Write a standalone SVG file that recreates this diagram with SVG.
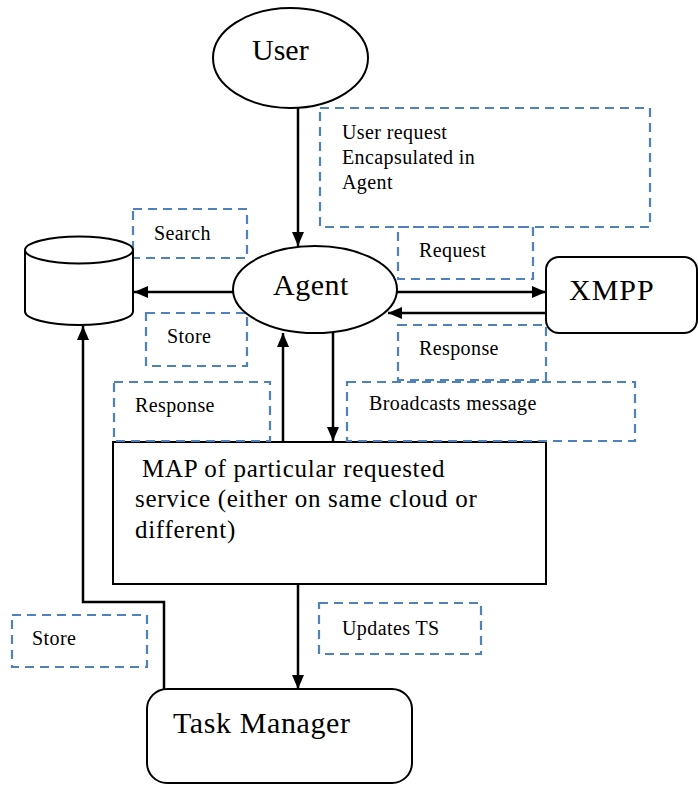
<svg xmlns="http://www.w3.org/2000/svg" width="698" height="785" viewBox="0 0 698 785">
<style>
.node{fill:#fff;stroke:#000;stroke-width:2}
.lbl{fill:none;stroke:#4F81BD;stroke-width:2.2;stroke-dasharray:9,6}
.big{font-family:"Liberation Serif","Times New Roman",serif;font-size:30px;fill:#000}
.mid{font-family:"Liberation Serif","Times New Roman",serif;font-size:25px;letter-spacing:0.7px;fill:#000}
.small{font-family:"Liberation Serif","Times New Roman",serif;font-size:20px;letter-spacing:0.4px;fill:#000}
.conn{fill:none;stroke:#000;stroke-width:2.5}
</style>
<defs>
<marker id="arr" viewBox="0 0 14 12" refX="14" refY="6" markerWidth="14" markerHeight="12" markerUnits="userSpaceOnUse" orient="auto">
<path d="M0,0 L14,6 L0,12 z" fill="#000"/>
</marker>
</defs>
<rect width="698" height="785" fill="#fff"/>

<g id="connectors">
<path class="conn" d="M298,108 L298,246" marker-end="url(#arr)"/>
<path class="conn" d="M233,292 L134,292" marker-end="url(#arr)"/>
<path class="conn" d="M397,292 L546,292" marker-end="url(#arr)"/>
<path class="conn" d="M546,313 L388,313" marker-end="url(#arr)"/>
<path class="conn" d="M283,441 L283,333" marker-end="url(#arr)"/>
<path class="conn" d="M333,331 L333,441" marker-end="url(#arr)"/>
<path class="conn" d="M298,584 L298,689" marker-end="url(#arr)"/>
<path class="conn" d="M164,689 L164,602 L83,602 L83,326" marker-end="url(#arr)"/>
</g>

<g id="map">
<rect class="node" x="113" y="442" width="433" height="142"/>
<text class="mid" x="135" y="477" xml:space="preserve"> MAP of particular requested</text>
<text class="mid" x="135" y="507">service (either on same cloud or</text>
<text class="mid" x="135" y="538">different)</text>
</g>

<g id="label-user-request">
<rect class="lbl" x="320" y="108" width="330" height="119"/>
<text class="small" x="342" y="139">User request</text>
<text class="small" x="342" y="164">Encapsulated in</text>
<text class="small" x="342" y="189">Agent</text>
</g>
<g id="label-search">
<rect class="lbl" x="133" y="209" width="114" height="49"/>
<text class="small" x="154" y="240">Search</text>
</g>
<g id="label-store-top">
<rect class="lbl" x="146" y="313" width="101" height="53"/>
<text class="small" x="167" y="343">Store</text>
</g>
<g id="label-response-left">
<rect class="lbl" x="114" y="382" width="156" height="59"/>
<text class="small" x="135" y="412">Response</text>
</g>
<g id="label-request">
<rect class="lbl" x="398" y="227" width="135" height="52"/>
<text class="small" x="419" y="257">Request</text>
</g>
<g id="label-response-right">
<rect class="lbl" x="398" y="325" width="148" height="55"/>
<text class="small" x="419" y="355">Response</text>
</g>
<g id="label-broadcasts">
<rect class="lbl" x="347" y="382" width="288" height="59"/>
<text class="small" x="369" y="410">Broadcasts message</text>
</g>
<g id="label-store-bottom">
<rect class="lbl" x="12" y="615" width="135" height="52"/>
<text class="small" x="32" y="645">Store</text>
</g>
<g id="label-updates">
<rect class="lbl" x="319" y="603" width="162" height="51"/>
<text class="small" x="342" y="635">Updates TS</text>
</g>

<g id="user">
<ellipse class="node" cx="290.5" cy="58" rx="77.5" ry="50"/>
<text class="big" x="252" y="60">User</text>
</g>
<g id="agent">
<ellipse class="node" cx="315" cy="289.5" rx="82" ry="43.5"/>
<text class="big" x="273" y="295" style="letter-spacing:0.5px">Agent</text>
</g>
<g id="database">
<path class="node" d="M25,250 L25,311.5 A54,13.5 0 0 0 133,311.5 L133,250"/>
<ellipse class="node" cx="79" cy="250" rx="54" ry="13.5"/>
</g>
<g id="xmpp">
<rect class="node" x="546" y="257" width="151" height="76" rx="13"/>
<text class="big" x="569" y="300" style="letter-spacing:1px">XMPP</text>
</g>
<g id="task-manager">
<rect class="node" x="147" y="689" width="265" height="94" rx="20"/>
<text class="big" x="173" y="733" style="letter-spacing:0.6px">Task Manager</text>
</g>
</svg>
